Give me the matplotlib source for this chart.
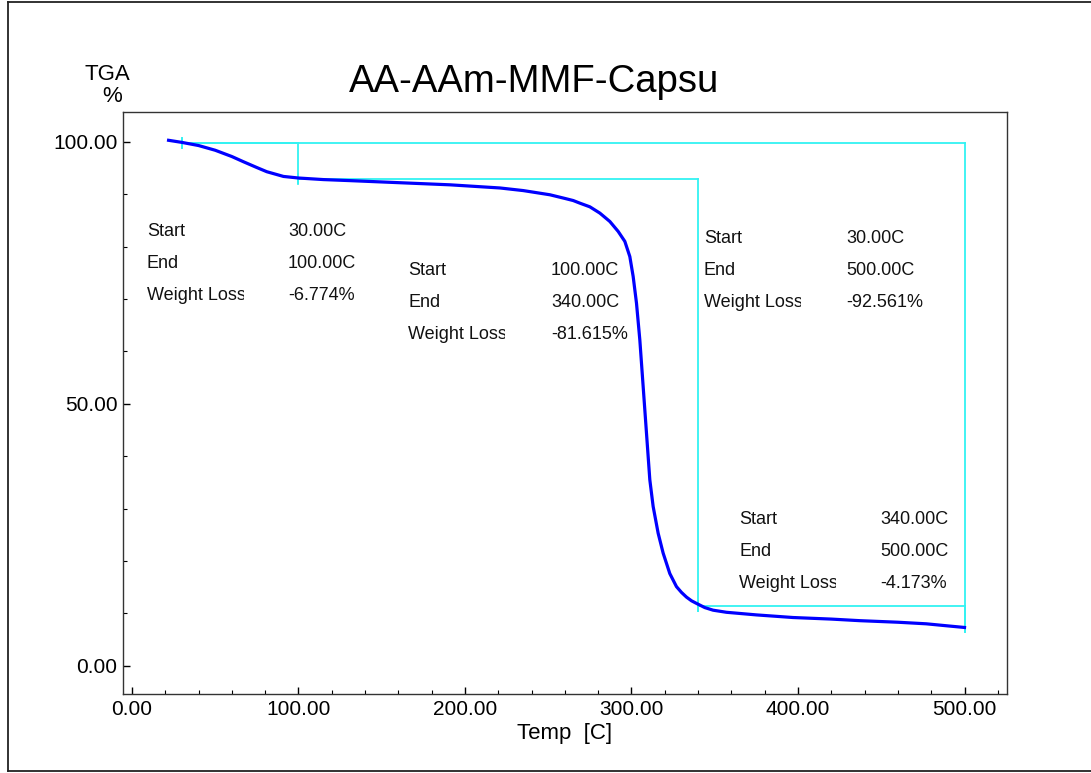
import matplotlib
matplotlib.use("Agg")
import matplotlib.pyplot as plt
import matplotlib.ticker as mticker
from matplotlib.lines import Line2D
from matplotlib.transforms import Bbox, TransformedBbox

# ── Data ───────────────────────────────────────────────

temp = [22, 30, 40, 50, 60, 67, 75, 81, 91, 100, 115, 131, 161, 191, 221,
        235, 245, 251, 260, 265, 269, 275, 281, 287, 292, 296, 299, 301,
        303, 305, 307, 309, 311, 313, 316, 319, 323, 327, 330, 333, 336,
        339, 344, 349, 357, 375, 397, 420, 437, 460, 477, 490, 500]
weight = [100.3, 99.9, 99.3, 98.4, 97.2, 96.2, 95.1, 94.3, 93.4, 93.1,
          92.8, 92.6, 92.2, 91.8, 91.2, 90.7, 90.2, 89.9, 89.2, 88.8, 88.3,
          87.6, 86.4, 84.8, 82.9, 81.0, 78.1, 74.3, 69.2, 62.2, 53.3, 44.4,
          35.5, 30.4, 25.3, 21.5, 17.6, 15.1, 14.0, 13.1, 12.4, 11.9, 11.1,
          10.6, 10.2, 9.7, 9.2, 8.9, 8.6, 8.3, 8.0, 7.6, 7.3]

# step analyses: (start temp, end temp, start weight, end weight)
step_start = [30, 100, 30, 340]
step_end = [100, 340, 500, 500]
step_w0 = [99.8, 92.9, 99.8, 11.4]
step_w1 = [92.2, 10.4, 6.5, 6.5]
step_labels = ["Start", "End", "Weight Loss"]
step_values = [
    ["30.00C", "100.00C", "-6.774%"],
    ["100.00C", "340.00C", "-81.615%"],
    ["30.00C", "500.00C", "-92.561%"],
    ["340.00C", "500.00C", "-4.173%"],
]

# ── Style ──────────────────────────────────────────────

CURVE = "#0000ff"
CYAN = "#33f2f2"
plt.rcParams["font.family"] = ["Liberation Sans", "DejaVu Sans"]

fig = plt.figure(figsize=(10.91, 7.73), dpi=100)
ax = fig.add_axes([0.1127, 0.1022, 0.8103, 0.7529])

# step markers
for t0, t1, w0, w1 in zip(step_start, step_end, step_w0, step_w1):
    ax.plot([t0, t1], [w0, w0], color=CYAN, lw=1.3, zorder=2)
    ax.plot([t1, t1], [w0, w1], color=CYAN, lw=1.3, zorder=2)
    ax.plot([t0, t0], [w0 + 0.9, w0 - 0.9], color=CYAN, lw=1.3, zorder=2)

ax.plot(temp, weight, color=CURVE, lw=2.3, zorder=3,
        solid_joinstyle="round")

# annotation blocks: label x, value x, baseline of first row (data units)
blocks = [(9.0, 93.7, 82.1), (165.8, 251.7, 74.5),
          (343.5, 428.8, 80.6), (364.6, 449.2, 27.0)]
row_step = 6.1
for (lx, vx, y0), vals in zip(blocks, step_values):
    for i, (lab, val) in enumerate(zip(step_labels, vals)):
        y = y0 - i * row_step
        t = ax.text(lx, y, lab, fontsize=13, color="#111111", va="baseline")
        # the instrument software cuts the label at the column width
        t.set_clip_box(TransformedBbox(
            Bbox([[lx - 5, y - 5], [lx + 58.5, y + 5]]), ax.transData))
        t.set_clip_on(True)
        ax.text(vx, y, val, fontsize=13, color="#111111", va="baseline")

ax.set_xlim(-5.4, 525.5)
ax.set_ylim(-5.4, 105.7)
ax.xaxis.set_major_locator(mticker.MultipleLocator(100))
ax.xaxis.set_minor_locator(mticker.MultipleLocator(20))
ax.yaxis.set_major_locator(mticker.MultipleLocator(50))
ax.yaxis.set_minor_locator(mticker.MultipleLocator(10))
ax.xaxis.set_major_formatter(mticker.FormatStrFormatter("%.2f"))
ax.yaxis.set_major_formatter(mticker.FormatStrFormatter("%.2f"))
ax.tick_params(which="major", direction="in", length=5, width=1,
               labelsize=15, pad=4, top=False, right=False)
ax.tick_params(which="minor", direction="in", length=2.8, width=0.8,
               top=False, right=False)
for s in ax.spines.values():
    s.set_color("#333333")
    s.set_linewidth(1)

ax.set_xlabel("Temp  [C]", fontsize=16, labelpad=3)
fig.text(534 / 1091, 1 - 82 / 773, "AA-AAm-MMF-Capsu", fontsize=27.5,
         ha="center", va="center")
fig.text(107 / 1091, 1 - 75 / 773, "TGA", fontsize=16, ha="center", va="center")
fig.text(112 / 1091, 1 - 97 / 773, "%", fontsize=16, ha="center", va="center")

# outer frame
fx0, fy0, fy1 = 8 / 1091, 1 - 771 / 773, 1 - 2 / 773
for xs, ys in [([fx0, fx0], [fy0, fy1]), ([fx0, 1], [fy1, fy1]),
               ([fx0, 1], [fy0, fy0])]:
    fig.add_artist(Line2D(xs, ys, color="#222222", lw=1.3,
                          transform=fig.transFigure))

fig.savefig("out.png", dpi=100)
